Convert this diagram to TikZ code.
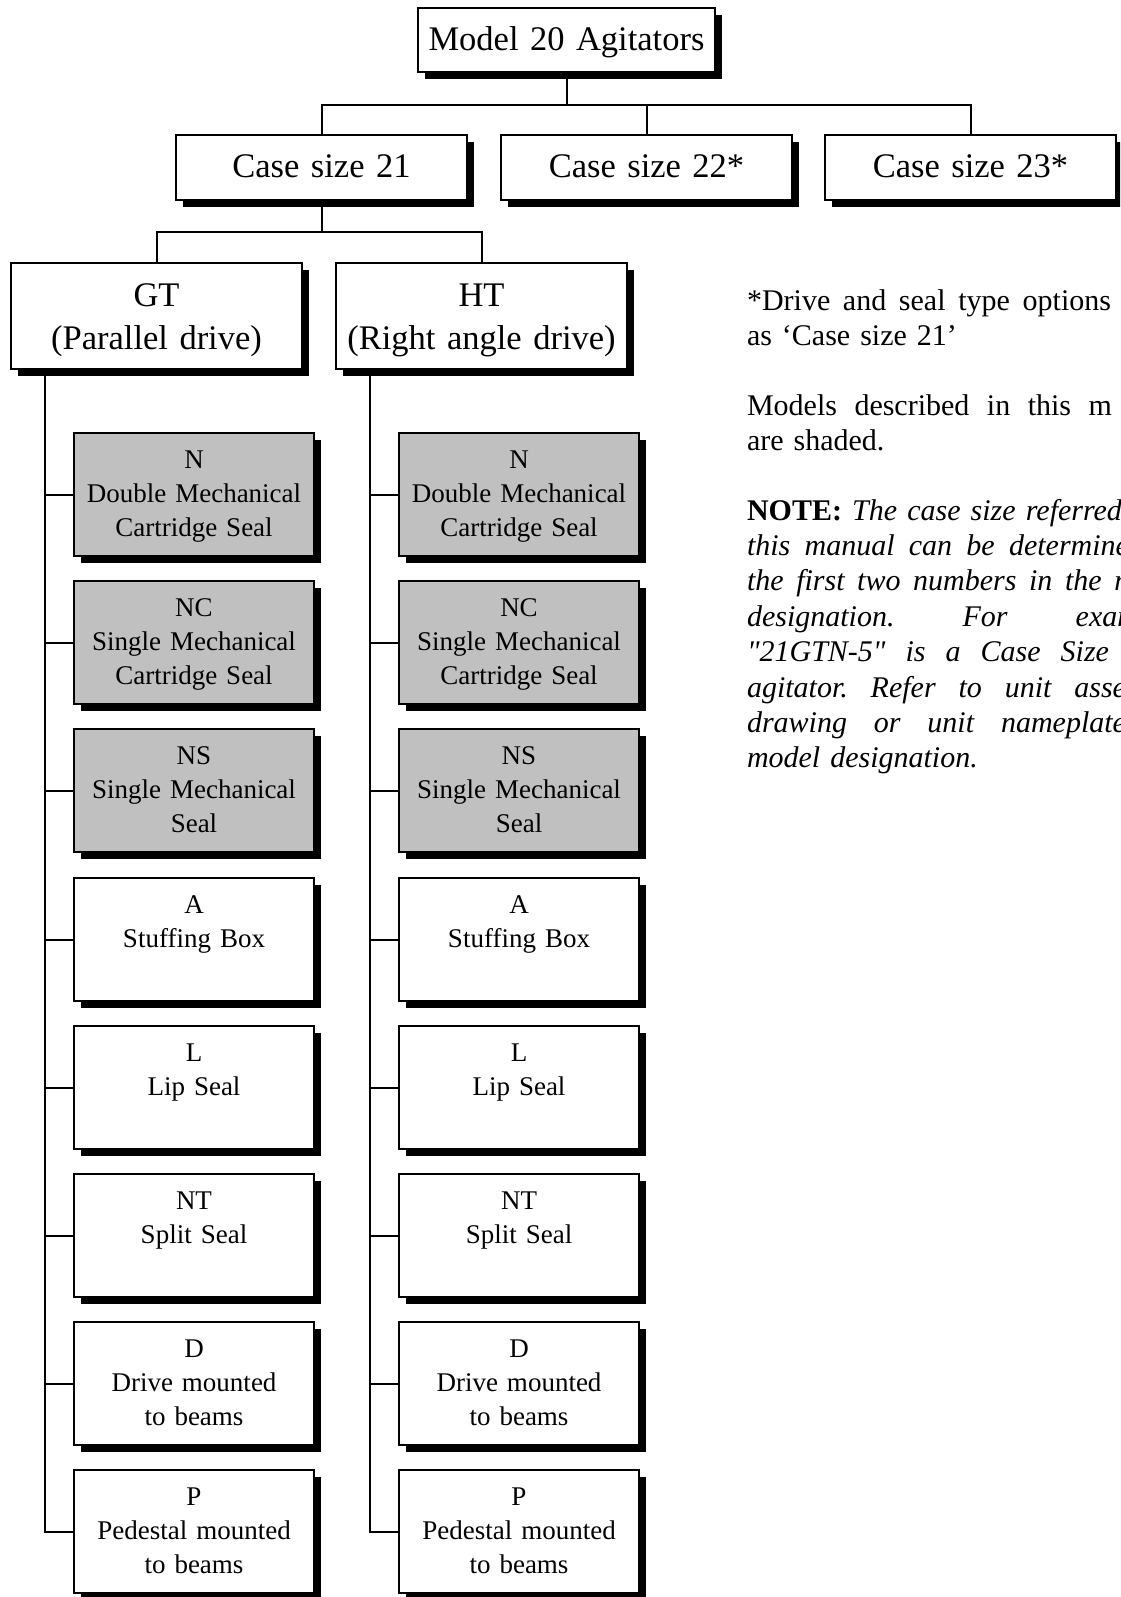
\documentclass[tikz,border=0pt]{standalone}
\usepackage{fontspec}
\setmainfont{Liberation Serif}
\usetikzlibrary{shapes,shadows}

\definecolor{sealgray}{RGB}{192,192,192}

% one justified line of the notes, cut at the page edge
\newcommand{\noteline}[2]{\makebox[#1][s]{\spaceskip=0pt\relax #2}}

\tikzset{
  level/.style={draw, fill=white, inner sep=0pt, align=center,
    text width=291pt, text height=43pt, text depth=22pt,
    drop shadow={shadow xshift=7pt, shadow yshift=-7pt, fill=black, opacity=1},
    font=\fontsize{34.5}{43}\selectfont},
  option/.style={draw, fill=white, inner sep=0pt, align=center,
    text width=240pt, text height=35pt, text depth=88pt,
    drop shadow={shadow xshift=7pt, shadow yshift=-7pt, fill=black, opacity=1},
    font=\fontsize{27}{34}\selectfont},
  sealed/.style={option, fill=sealgray},
  note/.style={inner sep=0pt, align=left, text width=420pt,
    font=\fontsize{30}{35.4}\selectfont\frenchspacing}
}

\begin{document}
\begin{tikzpicture}[x=1pt, y=-1pt, line width=2pt]
\useasboundingbox (0,0) rectangle (1120,1597);
\clip (0,0) rectangle (1120,1597);

% Top of the tree
\node [level, anchor=north, text width=297pt, text depth=21pt] (M) at (566.5,7) {Model 20 Agitators};

% Case sizes
\node [level, anchor=north] (C21) at (321.5,134) {Case size 21};
\node [level, anchor=north] (C22) at (646.5,134) {Case size 22*};
\node [level, anchor=north] (C23) at (970.5,134) {Case size 23*};

% Drives
\node [level, anchor=north, text depth=63pt] (GT) at (156.5,262) {GT\\(Parallel drive)};
\node [level, anchor=north, text depth=63pt] (HT) at (481.5,262) {HT\\(Right angle drive)};

% Seal types, parallel drive
\node [sealed, anchor=north] (G1) at (194,432) {N\\Double Mechanical\\Cartridge Seal};
\node [sealed, anchor=north] (G2) at (194,580) {NC\\Single Mechanical\\Cartridge Seal};
\node [sealed, anchor=north] (G3) at (194,728) {NS\\Single Mechanical\\Seal};
\node [option, anchor=north] (G4) at (194,877) {A\\Stuffing Box};
\node [option, anchor=north] (G5) at (194,1025) {L\\Lip Seal};
\node [option, anchor=north] (G6) at (194,1173) {NT\\Split Seal};
\node [option, anchor=north] (G7) at (194,1321) {D\\Drive mounted\\to beams};
\node [option, anchor=north] (G8) at (194,1469) {P\\Pedestal mounted\\to beams};

% Seal types, right angle drive
\node [sealed, anchor=north] (H1) at (519,432) {N\\Double Mechanical\\Cartridge Seal};
\node [sealed, anchor=north] (H2) at (519,580) {NC\\Single Mechanical\\Cartridge Seal};
\node [sealed, anchor=north] (H3) at (519,728) {NS\\Single Mechanical\\Seal};
\node [option, anchor=north] (H4) at (519,877) {A\\Stuffing Box};
\node [option, anchor=north] (H5) at (519,1025) {L\\Lip Seal};
\node [option, anchor=north] (H6) at (519,1173) {NT\\Split Seal};
\node [option, anchor=north] (H7) at (519,1321) {D\\Drive mounted\\to beams};
\node [option, anchor=north] (H8) at (519,1469) {P\\Pedestal mounted\\to beams};

% Connectors
\coordinate (J1) at (566.5,105);
\coordinate (J2) at (321.5,232);
\draw (M.south) -- (J1);
\draw (C21.north) |- (J1) -| (C23.north);
\draw (C22.north) -- (C22.north |- J1);
\draw (C21.south) -- (J2);
\draw (GT.north) |- (J2) -| (HT.north);

\coordinate (Gtop) at ([xshift=35pt]GT.south west);
\coordinate (Htop) at ([xshift=35pt]HT.south west);
\draw (Gtop) |- (G8.west);
\draw (Htop) |- (H8.west);
\draw (Gtop |- G1.west) -- (G1.west) (Gtop |- G2.west) -- (G2.west)
      (Gtop |- G3.west) -- (G3.west) (Gtop |- G4.west) -- (G4.west)
      (Gtop |- G5.west) -- (G5.west) (Gtop |- G6.west) -- (G6.west)
      (Gtop |- G7.west) -- (G7.west);
\draw (Htop |- H1.west) -- (H1.west) (Htop |- H2.west) -- (H2.west)
      (Htop |- H3.west) -- (H3.west) (Htop |- H4.west) -- (H4.west)
      (Htop |- H5.west) -- (H5.west) (Htop |- H6.west) -- (H6.west)
      (Htop |- H7.west) -- (H7.west);

% Notes
\node [note, anchor=base west] (N1) at (746,310)
  {\noteline{364pt}{*Drive and seal type options}\\as `Case size 21'};
\node [note, anchor=base west] (N2) at (746,415)
  {\noteline{365pt}{Models described in this m}\\are shaded.};
\node [note, anchor=base west] (N3) at (746,520)
  {\noteline{375pt}{\textbf{NOTE:} \textit{The case size referred}}\\
   \noteline{382pt}{\textit{this manual can be determine}}\\
   \noteline{389pt}{\textit{the first two numbers in the m}}\\
   \noteline{392pt}{\textit{designation. For exam}}\\
   \noteline{362pt}{\textit{\textquotedbl 21GTN-5\textquotedbl{} is a Case Size}}\\
   \noteline{379pt}{\textit{agitator. Refer to unit asse}}\\
   \noteline{379pt}{\textit{drawing or unit nameplate}}\\
   \textit{model designation.}};

\end{tikzpicture}
\end{document}
